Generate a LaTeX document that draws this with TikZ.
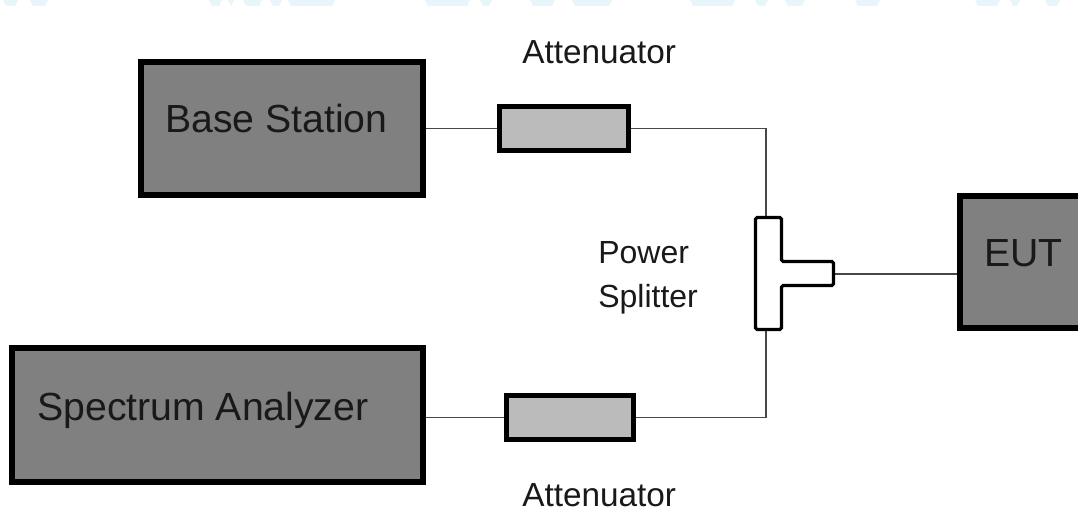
\documentclass[tikz,border=0pt]{standalone}
\usepackage{fontspec}
\setmainfont{Liberation Sans}
\definecolor{dk}{RGB}{128,128,128}
\definecolor{lt}{RGB}{187,187,187}
\definecolor{mark}{RGB}{232,246,252}
\tikzset{x=0.75pt,y=-0.75pt,
 unit/.style={draw=black,line width=4.5pt,fill=dk,inner sep=0,anchor=north west},
 att/.style={draw=black,line width=3.9pt,fill=lt,inner sep=0,anchor=center},
 wire/.style={draw=black!72,line width=0.9pt},
 lab/.style={font=\fontsize{24}{29}\selectfont,text=black!90,inner sep=0},
 attlab/.style={font=\fontsize{25}{29}\selectfont,text=black!90,inner sep=0},
 big/.style={font=\fontsize{29.4}{34}\selectfont,text=black!90,inner sep=0},
 wmark/.style={fill=mark,draw=none}}
\begin{document}
\begin{tikzpicture}
\useasboundingbox (0,0) rectangle (1078,531);
\fill[white] (0,0) rectangle (1078,531);
\foreach \xa/\xb in {3/18,30/48,209/222,228/234,243/262,270/282,288/335,425/470,480/492,530/555,572/612,690/735,755/768,785/805,855/880,975/1000,1010/1020,1045/1060}{
  \fill[wmark] (\xa,0) -- (\xb,0) -- (\xb-3,6) -- (\xa+3,6) -- cycle;
}
\node[unit,minimum width=282.5*0.75pt,minimum height=132.5*0.75pt] (bs) at (137.5,59.5) {};
\node[big,anchor=base west] (bst) at (165,132.7) {Base Station};
\node[unit,minimum width=411*0.75pt,minimum height=133.7*0.75pt] (sa) at (9,345.3) {};
\node[big,anchor=base west] (sat) at (37,420) {Spectrum Analyzer};
\node[unit,minimum width=130*0.75pt,minimum height=132*0.75pt] (eut) at (957,193) {};
\node[big,anchor=base west] (eutt) at (984,266) {EUT};
\node[att,minimum width=128.8*0.75pt,minimum height=44*0.75pt] (a1) at (563.8,128.7) {};
\node[att,minimum width=126.8*0.75pt,minimum height=44*0.75pt] (a2) at (570,417.7) {};
\node[attlab,anchor=base west] (a1t) at (522,64) {Attenuator};
\node[attlab,anchor=base west] (a2t) at (522,506.5) {Attenuator};
\node[lab,anchor=base west] (pst1) at (598,263) {Power};
\node[lab,anchor=base west] (pst2) at (598,307) {Splitter};
\coordinate (st) at (766,217.5);
\coordinate (sb) at (766,329.5);
\coordinate (sr) at (833.5,274);
\coordinate (c1) at (766,128.7);
\coordinate (c2) at (766,417.7);
\draw[wire] (bs.east |- a1.west) -- (a1.west);
\draw[wire] (a1.east) -- (c1) -- (st);
\draw[wire] (sa.east |- a2.west) -- (a2.west);
\draw[wire] (a2.east) -- (c2) -- (sb);
\draw[wire] (sr) -- (eut.west |- sr);
\draw[draw=black,line width=2.3pt,fill=white,rounded corners=1.2pt]
 (755.5,217.5) -- (781.5,217.5) -- (781.5,261.5) -- (833.5,261.5) -- (833.5,285.5) -- (781.5,285.5) -- (781.5,329.5) -- (755.5,329.5) -- cycle;
\end{tikzpicture}
\end{document}
